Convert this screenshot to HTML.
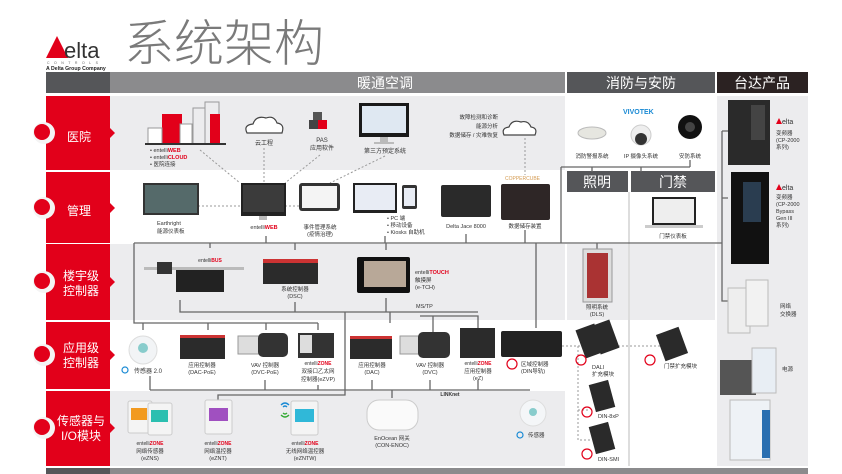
<!DOCTYPE html>
<html><head><meta charset="utf-8"><style>
html,body{margin:0;padding:0;background:#fff}
svg{display:block}
text{font-family:"Liberation Sans","Noto Sans CJK SC",sans-serif}
</style></head><body>
<svg width="842" height="474" viewBox="0 0 842 474" xmlns="http://www.w3.org/2000/svg">
<!-- logo -->
<polygon points="46,58 57,36 68,58" fill="#e2001a"/>
<text x="64" y="58" font-size="22" fill="#333">elta</text>
<text x="47" y="64" font-size="3.5" fill="#666" letter-spacing="4.5">CONTROLS</text>
<text x="46" y="70" font-size="5.2" font-weight="bold" fill="#222">A Delta Group Company</text>
<!-- title -->
<text x="124" y="61" font-size="50" fill="#7a7a7a" font-family="'Noto Sans CJK SC',sans-serif" font-weight="300">系统架构</text>

<!-- header bars -->
<rect x="46" y="72" width="64" height="21" fill="#555659"/>
<rect x="110" y="72" width="455" height="21" fill="#8b8b8d"/>
<text x="385" y="88" font-size="14" fill="#fff" text-anchor="middle">暖通空调</text>
<rect x="567" y="72" width="148" height="21" fill="#555659"/>
<text x="641" y="88" font-size="14" fill="#fff" text-anchor="middle">消防与安防</text>
<rect x="717" y="72" width="91" height="21" fill="#2b2222"/>
<text x="762" y="88" font-size="14" fill="#fff" text-anchor="middle">台达产品</text>

<!-- content backgrounds -->
<rect x="110" y="96" width="455" height="74" fill="#ececee"/>
<rect x="110" y="172" width="455" height="71" fill="#fff"/>
<rect x="110" y="244" width="455" height="76" fill="#ececee"/>
<rect x="110" y="322" width="455" height="67" fill="#fff"/>
<rect x="110" y="391" width="455" height="75" fill="#ececee"/>
<rect x="567" y="96" width="148" height="370" fill="#fff"/>
<rect x="567" y="244" width="61" height="76" fill="#ececee"/>
<rect x="630" y="244" width="85" height="76" fill="#ececee"/>
<line x1="629" y1="192" x2="629" y2="466" stroke="#ddd" stroke-width="2"/>
<rect x="567" y="171" width="61" height="21" fill="#555659"/>
<text x="597" y="187" font-size="14" fill="#fff" text-anchor="middle">照明</text>
<rect x="631" y="171" width="84" height="21" fill="#555659"/>
<text x="673" y="187" font-size="14" fill="#fff" text-anchor="middle">门禁</text>
<rect x="717" y="96" width="91" height="370" fill="#ececee"/>
<rect x="46" y="468" width="64" height="6" fill="#555659"/>
<rect x="110" y="468" width="698" height="6" fill="#8b8b8d"/>

<!-- left red column -->
<g fill="#e2001a">
<rect x="46" y="96" width="64" height="74"/><polygon points="110,128 115,133 110,138"/>
<rect x="46" y="172" width="64" height="71"/><polygon points="110,203 115,208 110,213"/>
<rect x="46" y="244" width="64" height="76"/><polygon points="110,277 115,282 110,287"/>
<rect x="46" y="322" width="64" height="67"/><polygon points="110,350 115,355 110,360"/>
<rect x="46" y="391" width="64" height="75"/><polygon points="110,423 115,428 110,433"/>
</g>
<g>
<circle cx="44" cy="133" r="11" fill="#f4f4f4"/><circle cx="42" cy="132" r="8" fill="#e2001a"/>
<circle cx="44" cy="208" r="11" fill="#f4f4f4"/><circle cx="42" cy="207" r="8" fill="#e2001a"/>
<circle cx="44" cy="282" r="11" fill="#f4f4f4"/><circle cx="42" cy="281" r="8" fill="#e2001a"/>
<circle cx="44" cy="355" r="11" fill="#f4f4f4"/><circle cx="42" cy="354" r="8" fill="#e2001a"/>
<circle cx="44" cy="428" r="11" fill="#f4f4f4"/><circle cx="42" cy="427" r="8" fill="#e2001a"/>
</g>
<g fill="#fff" font-size="12" text-anchor="middle">
<text x="79" y="141">医院</text>
<text x="79" y="215">管理</text>
<text x="81" y="280">楼宇级</text><text x="81" y="295">控制器</text>
<text x="81" y="352">应用级</text><text x="81" y="367">控制器</text>
<text x="81" y="425">传感器与</text><text x="81" y="440">I/O模块</text>
</g>

<!-- connector lines -->
<g stroke="#666" stroke-width="1.3" fill="none">
<path d="M134,243 H722 M134,243 V323 H318 M143,323 V330 M208,323 V330 M266,323 V330 M318,323 V330"/>
<path d="M266,236 V243 M385,236 V243 M466,234 V243 M525,230 V243 M536,243 V328"/>
<path d="M210,243 V248 M295,243 V250 M386,243 V250 M597,243 V249"/>
<path d="M561,167 H690 M561,167 V243 M592,167 V172 M641,167 V172 M690,160 V167"/>
<path d="M722,131 V243 M722,131 H728 M722,198 H728 M722,243 V301 H730"/>
<path d="M180,300 V312 H478 M295,302 V312 M386,298 V312 M390,312 V323 M345,312 V395 H218 V400"/>
<path d="M420,316 H478 V333 M433,316 V333"/>
<path d="M150,376 V390 M150,390 H530 M265,380 V390 M318,385 V390 M372,380 V390 M430,380 V390 M478,380 V390 M392,390 V398"/>
</g>
<g stroke="#999" stroke-width="1" stroke-dasharray="2,2" fill="none">
<path d="M200,150 L240,183 M264,148 V183 M320,155 L285,183 M385,156 L330,183 M525,138 V175"/>
<path d="M198,206 H240 M285,206 H300 M562,346 H660 M578,346 V440 H590 M578,410 H590"/>
</g>

<!-- row1 icons -->
<g>
<rect x="162" y="114" width="20" height="30" fill="#e2001a"/>
<rect x="193" y="108" width="12" height="36" fill="none" stroke="#999"/>
<rect x="205" y="102" width="14" height="42" fill="none" stroke="#999"/>
<rect x="210" y="114" width="10" height="30" fill="#e2001a"/>
<rect x="180" y="124" width="12" height="20" fill="#fff" stroke="#999"/>
<rect x="148" y="128" width="14" height="16" fill="#fff" stroke="#999"/>
<rect x="145" y="143" width="81" height="2" fill="#333"/>
</g>
<g font-size="5.5" fill="#333">
<text x="150" y="152">• entelli<tspan fill="#e2001a" font-weight="bold">WEB</tspan></text>
<text x="150" y="159">• entelli<tspan fill="#e2001a" font-weight="bold">CLOUD</tspan></text>
<text x="150" y="166">• 医院连接</text>
</g>
<path d="M247,133 q-4,-8 6,-9 q3,-9 13,-6 q8,-3 11,5 q8,1 5,10 z" fill="#fff" stroke="#444" stroke-width="1.2"/>
<text x="264" y="145" font-size="6" fill="#333" text-anchor="middle">云工程</text>
<rect x="313" y="112" width="9" height="9" fill="#555"/><rect x="309" y="120" width="9" height="9" fill="#444"/><rect x="318" y="120" width="9" height="9" fill="#e2001a"/>
<text x="322" y="142" font-size="6" fill="#333" text-anchor="middle">PAS</text>
<text x="322" y="150" font-size="6" fill="#333" text-anchor="middle">应用软件</text>
<rect x="359" y="103" width="50" height="34" fill="#1a1a1a"/><rect x="362" y="106" width="44" height="27" fill="#dfe8f2"/>
<rect x="380" y="137" width="8" height="5" fill="#bbb"/><rect x="374" y="142" width="20" height="2" fill="#bbb"/>
<text x="385" y="153" font-size="6" fill="#333" text-anchor="middle">第三方预定系统</text>
<g font-size="5.5" fill="#333" text-anchor="end">
<text x="498" y="119">故障检测和诊断</text><text x="498" y="128">能源分析</text><text x="498" y="137">数据储存 / 灾难恢复</text>
</g>
<path d="M504,135 q-3,-7 5,-8 q3,-8 12,-5 q7,-2 10,5 q7,1 4,8 z" fill="#fff" stroke="#444" stroke-width="1.2"/>

<!-- fire/security -->
<text x="623" y="114" font-size="7" fill="#1a8ad4" font-weight="bold">VIVOTEK</text>
<ellipse cx="592" cy="133" rx="14" ry="6" fill="#e6e6e0" stroke="#bbb"/>
<circle cx="641" cy="135" r="10" fill="#eee" stroke="#ccc"/><circle cx="641" cy="139" r="6" fill="#333"/>
<circle cx="690" cy="127" r="12" fill="#111"/><circle cx="690" cy="127" r="5" fill="#444"/>
<g font-size="5.5" fill="#333" text-anchor="middle">
<text x="592" y="158">消防警报系统</text><text x="641" y="158">IP 摄像头系统</text><text x="690" y="158">安防系统</text>
</g>
<rect x="652" y="197" width="44" height="28" fill="#222"/><rect x="654" y="199" width="40" height="24" fill="#eee"/>
<rect x="645" y="225" width="58" height="3" fill="#ccc"/>
<text x="673" y="238" font-size="5.5" fill="#333" text-anchor="middle">门禁仪表板</text>

<!-- taida -->
<rect x="728" y="100" width="42" height="65" fill="#2a2a2a"/><rect x="751" y="105" width="14" height="35" fill="#444"/>
<polygon points="776,124 779,118 782,124" fill="#e2001a"/><text x="782" y="124" font-size="7" fill="#333">elta</text>
<g font-size="5.5" fill="#333"><text x="776" y="135">变频器</text><text x="776" y="142">(CP-2000</text><text x="776" y="149">系列)</text></g>
<rect x="731" y="172" width="38" height="92" fill="#111"/><rect x="743" y="182" width="18" height="40" fill="#2a3d50"/>
<polygon points="776,190 779,184 782,190" fill="#e2001a"/><text x="782" y="190" font-size="7" fill="#333">elta</text>
<g font-size="5.5" fill="#333"><text x="776" y="199">变频器</text><text x="776" y="206">(CP-2000</text><text x="776" y="213">Bypass</text><text x="776" y="220">Gen III</text><text x="776" y="227">系列)</text></g>
<rect x="728" y="288" width="22" height="45" fill="#eee" stroke="#bbb"/><rect x="746" y="280" width="22" height="46" fill="#f2f2f2" stroke="#bbb"/>
<g font-size="5.5" fill="#333"><text x="780" y="308">网络</text><text x="780" y="316">交换器</text><text x="782" y="371">电源</text></g>
<rect x="720" y="360" width="36" height="35" fill="#555"/><rect x="752" y="348" width="24" height="45" fill="#e8eef4" stroke="#bbb"/>
<rect x="730" y="400" width="40" height="60" fill="#eef2f6" stroke="#bbb"/><rect x="762" y="410" width="8" height="48" fill="#2a6fb0"/>

<!-- row2 -->
<rect x="143" y="183" width="56" height="32" fill="#333"/><rect x="145" y="185" width="52" height="28" fill="#556a6a"/>
<text x="157" y="225" font-size="5.5" fill="#333">Earthright</text><text x="157" y="233" font-size="5.5" fill="#333">能源仪表板</text>
<rect x="241" y="183" width="45" height="33" fill="#222"/><rect x="243" y="185" width="41" height="27" fill="#3b3b3b"/><rect x="259" y="216" width="8" height="4" fill="#bbb"/>
<text x="264" y="229" font-size="5.5" fill="#333" text-anchor="middle">entelli<tspan fill="#e2001a" font-weight="bold">WEB</tspan></text>
<rect x="299" y="183" width="41" height="28" rx="3" fill="#333"/><rect x="302" y="186" width="35" height="22" fill="#f4f4f4"/>
<text x="320" y="229" font-size="5.5" fill="#333" text-anchor="middle">事件管理系统</text><text x="320" y="236" font-size="5.5" fill="#333" text-anchor="middle">(疫情治理)</text>
<rect x="353" y="183" width="44" height="30" fill="#222"/><rect x="355" y="185" width="40" height="25" fill="#e8ecf4"/>
<rect x="402" y="185" width="15" height="24" rx="2" fill="#333"/><rect x="404" y="188" width="11" height="18" fill="#e8ecf4"/>
<g font-size="5.5" fill="#333"><text x="387" y="220">• PC 端</text><text x="387" y="227">• 移动设备</text><text x="387" y="234">• Kiosks 自助机</text></g>
<rect x="441" y="185" width="50" height="32" rx="2" fill="#2a2a2a"/>
<text x="466" y="228" font-size="5.5" fill="#333" text-anchor="middle">Delta Jace 8000</text>
<text x="505" y="180" font-size="5" fill="#d49a50">COPPERCUBE</text>
<rect x="501" y="184" width="49" height="36" rx="2" fill="#2e2626"/>
<text x="525" y="228" font-size="5.5" fill="#333" text-anchor="middle">数据储存装置</text>

<!-- row3 -->
<rect x="144" y="267" width="100" height="3" fill="#bbb"/>
<rect x="157" y="262" width="15" height="12" fill="#333"/>
<rect x="176" y="270" width="48" height="22" fill="#222"/>
<text x="210" y="262" font-size="5" fill="#333" text-anchor="middle">entelli<tspan fill="#e2001a" font-weight="bold">BUS</tspan></text>
<rect x="263" y="259" width="55" height="25" fill="#2b2b2b"/><rect x="263" y="259" width="55" height="4" fill="#c33"/>
<text x="295" y="291" font-size="5.5" fill="#333" text-anchor="middle">系统控制器</text><text x="295" y="298" font-size="5.5" fill="#333" text-anchor="middle">(DSC)</text>
<rect x="357" y="257" width="53" height="36" rx="2" fill="#111"/><rect x="364" y="261" width="42" height="26" fill="#b8a898"/>
<text x="415" y="274" font-size="5.5" fill="#333">entelli<tspan fill="#e2001a" font-weight="bold">TOUCH</tspan></text>
<text x="415" y="282" font-size="5.5" fill="#333">触摸屏</text><text x="415" y="289" font-size="5.5" fill="#333">(e-TCH)</text>
<text x="416" y="308" font-size="5.5" fill="#333">MS/TP</text>
<rect x="583" y="249" width="29" height="53" fill="#ddd" stroke="#999"/><rect x="587" y="253" width="21" height="45" fill="#a33"/>
<text x="597" y="309" font-size="5.5" fill="#333" text-anchor="middle">照明系统</text><text x="597" y="316" font-size="5.5" fill="#333" text-anchor="middle">(DLS)</text>

<!-- row4 -->
<circle cx="143" cy="350" r="14" fill="#f2f4f6" stroke="#ddd"/><circle cx="143" cy="348" r="5" fill="#8cc"/>
<circle cx="125" cy="370" r="3" fill="none" stroke="#1a8ad4" stroke-width="1.2"/>
<text x="134" y="373" font-size="6" fill="#333">传感器 2.0</text>
<rect x="180" y="335" width="45" height="24" fill="#2b2b2b"/><rect x="180" y="335" width="45" height="3" fill="#c33"/>
<text x="202" y="367" font-size="5.5" fill="#333" text-anchor="middle">应用控制器</text><text x="202" y="374" font-size="5.5" fill="#333" text-anchor="middle">(DAC-PoE)</text>
<rect x="238" y="336" width="22" height="18" fill="#ddd" stroke="#999"/><rect x="258" y="333" width="30" height="24" rx="5" fill="#333"/>
<text x="265" y="367" font-size="5.5" fill="#333" text-anchor="middle">VAV 控制器</text><text x="265" y="374" font-size="5.5" fill="#333" text-anchor="middle">(DVC-PoE)</text>
<rect x="298" y="333" width="36" height="25" fill="#333"/><rect x="300" y="335" width="12" height="18" fill="#ddd"/>
<text x="318" y="365" font-size="5" fill="#333" text-anchor="middle">entelli<tspan fill="#e2001a" font-weight="bold">ZONE</tspan></text>
<text x="318" y="373" font-size="5.5" fill="#333" text-anchor="middle">双接口乙太网</text><text x="318" y="381" font-size="5.5" fill="#333" text-anchor="middle">控制器(eZVP)</text>
<rect x="350" y="336" width="42" height="23" fill="#2b2b2b"/><rect x="350" y="336" width="42" height="3" fill="#c33"/>
<text x="372" y="367" font-size="5.5" fill="#333" text-anchor="middle">应用控制器</text><text x="372" y="374" font-size="5.5" fill="#333" text-anchor="middle">(DAC)</text>
<rect x="400" y="336" width="22" height="18" fill="#ddd" stroke="#999"/><rect x="418" y="332" width="32" height="26" rx="5" fill="#333"/>
<text x="430" y="367" font-size="5.5" fill="#333" text-anchor="middle">VAV 控制器</text><text x="430" y="374" font-size="5.5" fill="#333" text-anchor="middle">(DVC)</text>
<rect x="460" y="328" width="35" height="30" fill="#2b2b2b"/>
<text x="478" y="365" font-size="5" fill="#333" text-anchor="middle">entelli<tspan fill="#e2001a" font-weight="bold">ZONE</tspan></text>
<text x="478" y="373" font-size="5.5" fill="#333" text-anchor="middle">应用控制器</text><text x="478" y="380" font-size="5.5" fill="#333" text-anchor="middle">(eZ)</text>
<rect x="501" y="331" width="61" height="26" rx="2" fill="#222"/>
<circle cx="512" cy="364" r="5" fill="none" stroke="#e2001a" stroke-width="1.2"/>
<text x="521" y="366" font-size="5.5" fill="#333">区域控制器</text><text x="521" y="373" font-size="5.5" fill="#333">(DIN导轨)</text>
<rect x="580" y="326" width="20" height="30" fill="#2a2a2a" transform="rotate(-20 590 341)"/><rect x="595" y="322" width="20" height="30" fill="#2a2a2a" transform="rotate(-20 605 337)"/>
<circle cx="581" cy="360" r="5" fill="none" stroke="#e2001a" stroke-width="1.2"/>
<text x="592" y="369" font-size="5.5" fill="#333">DALI</text><text x="592" y="376" font-size="5.5" fill="#333">扩充模块</text>
<rect x="660" y="330" width="24" height="28" fill="#2a2a2a" transform="rotate(-20 672 344)"/>
<circle cx="650" cy="360" r="5" fill="none" stroke="#e2001a" stroke-width="1.2"/>
<text x="664" y="368" font-size="5.5" fill="#333">门禁扩充模块</text>

<!-- row5 -->
<text x="450" y="396" font-size="5" fill="#333" font-weight="bold" text-anchor="middle">LINKnet</text>
<rect x="128" y="401" width="24" height="32" rx="2" fill="#f4f4f4" stroke="#ccc"/><rect x="131" y="408" width="16" height="12" fill="#f29a20"/>
<rect x="148" y="403" width="24" height="32" rx="2" fill="#f4f4f4" stroke="#ccc"/><rect x="151" y="410" width="17" height="12" fill="#2bbfb0"/>
<text x="150" y="445" font-size="5" fill="#333" text-anchor="middle">entelli<tspan fill="#e2001a" font-weight="bold">ZONE</tspan></text>
<text x="150" y="453" font-size="5.5" fill="#333" text-anchor="middle">网络传感器</text><text x="150" y="460" font-size="5.5" fill="#333" text-anchor="middle">(eZNS)</text>
<rect x="205" y="400" width="27" height="34" rx="2" fill="#f4f4f4" stroke="#ccc"/><rect x="209" y="408" width="19" height="13" fill="#a050c0"/>
<text x="218" y="445" font-size="5" fill="#333" text-anchor="middle">entelli<tspan fill="#e2001a" font-weight="bold">ZONE</tspan></text>
<text x="218" y="453" font-size="5.5" fill="#333" text-anchor="middle">网络温控器</text><text x="218" y="460" font-size="5.5" fill="#333" text-anchor="middle">(eZNT)</text>
<path d="M281,405 q4,-4 8,0 M283,407 q2,-2 4,0" stroke="#1a8ad4" fill="none" stroke-width="1.3"/>
<path d="M281,415 q4,4 8,0 M283,413 q2,2 4,0" stroke="#3a3" fill="none" stroke-width="1.3"/>
<rect x="291" y="401" width="27" height="34" rx="2" fill="#f4f4f4" stroke="#ccc"/><rect x="295" y="409" width="19" height="13" fill="#30b8d8"/>
<text x="305" y="445" font-size="5" fill="#333" text-anchor="middle">entelli<tspan fill="#e2001a" font-weight="bold">ZONE</tspan></text>
<text x="305" y="453" font-size="5.5" fill="#333" text-anchor="middle">无线网络温控器</text><text x="305" y="460" font-size="5.5" fill="#333" text-anchor="middle">(eZNTW)</text>
<rect x="367" y="400" width="51" height="30" rx="12" fill="#fafafa" stroke="#ccc"/>
<text x="392" y="440" font-size="5.5" fill="#333" text-anchor="middle">EnOcean 网关</text><text x="392" y="447" font-size="5.5" fill="#333" text-anchor="middle">(CON-ENOC)</text>
<circle cx="533" cy="413" r="13" fill="#f4f6f8" stroke="#ddd"/><circle cx="533" cy="412" r="4" fill="#8cc"/>
<circle cx="520" cy="435" r="3" fill="none" stroke="#1a8ad4" stroke-width="1.2"/>
<text x="528" y="437" font-size="5.5" fill="#333">传感器</text>
<rect x="592" y="382" width="20" height="28" fill="#2a2a2a" transform="rotate(-15 602 396)"/>
<circle cx="587" cy="412" r="5" fill="none" stroke="#e2001a" stroke-width="1.2"/>
<text x="598" y="418" font-size="5.5" fill="#333">DIN-8xP</text>
<rect x="592" y="424" width="20" height="28" fill="#2a2a2a" transform="rotate(-15 602 438)"/>
<circle cx="587" cy="454" r="5" fill="none" stroke="#e2001a" stroke-width="1.2"/>
<text x="598" y="461" font-size="5.5" fill="#333">DIN-SMI</text>
</svg>
</body></html>
